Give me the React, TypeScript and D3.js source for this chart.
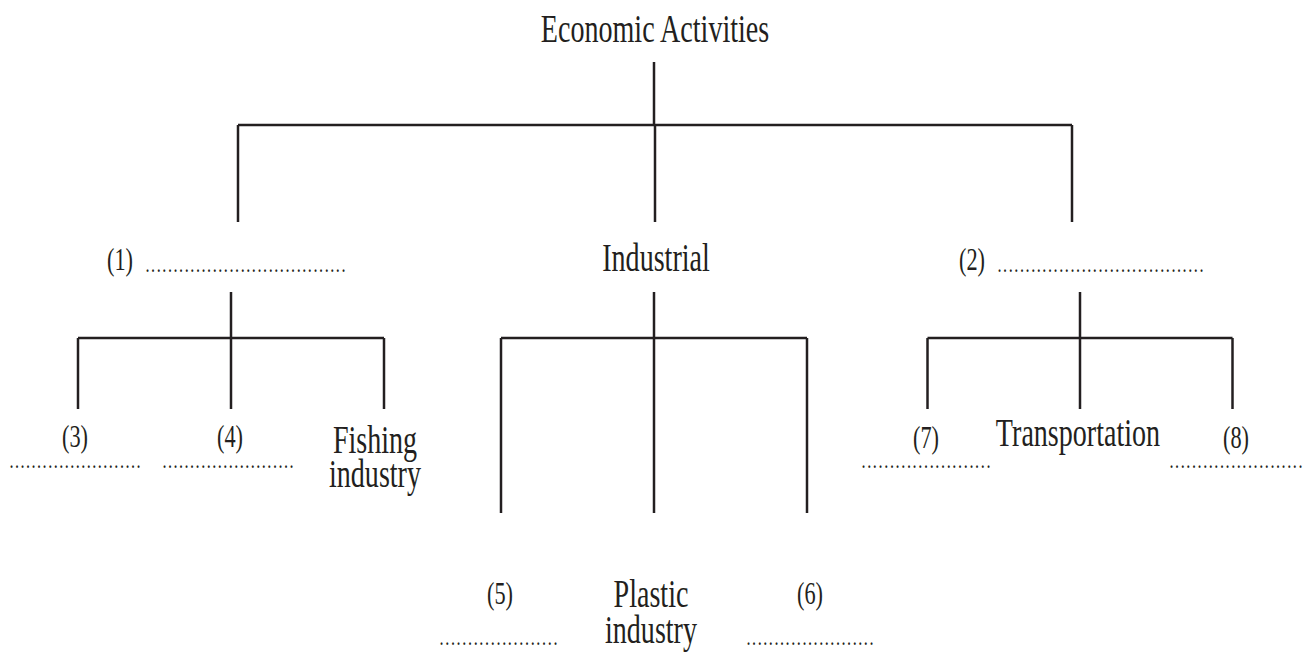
import React from "react";
import * as d3 from "d3";

const rootLabel = "Economic Activities";
const branchLabels = ["(1)", "Industrial", "(2)"];
const branchBlanks = [36, 0, 37];
const leafLabels = [
  ["(3)", "(4)", "Fishing\nindustry"],
  ["(5)", "Plastic\nindustry", "(6)"],
  ["(7)", "Transportation", "(8)"],
];
const leafBlanks = [
  [24, 24, 0],
  [21, 0, 23],
  [23, 0, 24],
];

const W = 1309;
const H = 657;
const INK = "#231f20";
const FONT = "'Liberation Serif', 'Times New Roman', serif";
const SX = 0.72;

function Label({ x, y, size, text, anchor = "middle", lineGap = 36 }: any) {
  const lines = String(text).split("\n");
  return (
    <text
      transform={`translate(${x},${y}) scale(${SX},1)`}
      textAnchor={anchor}
      fontFamily={FONT}
      fontSize={size}
      fill={INK}
    >
      {lines.map((ln, i) => (
        <tspan key={i} x={0} dy={i === 0 ? 0 : lineGap}>
          {ln}
        </tspan>
      ))}
    </text>
  );
}

function Blank({ x, y, n, width }: any) {
  return (
    <text
      transform={`translate(${x},${y}) scale(${SX},1)`}
      fontFamily={FONT}
      fontSize={17}
      fontWeight="bold"
      fill={INK}
      textLength={width / SX}
      lengthAdjust="spacing"
    >
      {".".repeat(n)}
    </text>
  );
}

export default function App() {
  const xTop = d3.scaleLinear().domain([0, 2]).range([238, 1072]);
  const yLev = d3.scaleOrdinal<string, number>()
    .domain(["rootText", "rootStem", "bar1", "drop1", "stem2", "bar2"])
    .range([42, 62, 125, 222, 292, 338]);
  const groupCenter = [231, 654, 1080];
  const groupHalf = [153, 153, 152.5];
  const dropBottom = [409, 513, 409];

  const lineProps = { stroke: INK, strokeWidth: 2.5, fill: "none" };
  const cx = xTop(1) as number;

  const leafX = (g: number, i: number) =>
    d3.scaleLinear().domain([0, 2]).range([groupCenter[g] - groupHalf[g], groupCenter[g] + groupHalf[g]])(i);

  return (
    <svg width={W} height={H} style={{ position: "absolute", left: 0, top: 0 }}>
      <rect width={W} height={H} fill="#fff" />
      <Label x={655} y={yLev("rootText")} size={39} text={rootLabel} />
      <line x1={cx - 1} x2={cx - 1} y1={yLev("rootStem")} y2={yLev("bar1")} {...lineProps} />
      <line x1={xTop(0)} x2={xTop(2)} y1={yLev("bar1")} y2={yLev("bar1")} {...lineProps} />
      {branchLabels.map((_, i) => (
        <line key={i} x1={xTop(i)} x2={xTop(i)} y1={yLev("bar1")} y2={yLev("drop1")} {...lineProps} />
      ))}

      <Label x={120} y={270} size={31} text={branchLabels[0]} />
      <Blank x={146} y={272} n={branchBlanks[0]} width={199} />
      <Label x={656} y={271} size={39} text={branchLabels[1]} />
      <Label x={972} y={270} size={31} text={branchLabels[2]} />
      <Blank x={998} y={272} n={branchBlanks[2]} width={205} />

      {groupCenter.map((c, g) => (
        <g key={g}>
          <line x1={c} x2={c} y1={yLev("stem2")} y2={yLev("bar2")} {...lineProps} />
          <line x1={leafX(g, 0)} x2={leafX(g, 2)} y1={yLev("bar2")} y2={yLev("bar2")} {...lineProps} />
          {[0, 1, 2].map((i) => (
            <line key={i} x1={leafX(g, i)} x2={leafX(g, i)} y1={yLev("bar2")} y2={dropBottom[g]} {...lineProps} />
          ))}
        </g>
      ))}

      <Label x={75} y={447} size={31} text={leafLabels[0][0]} />
      <Blank x={10} y={468} n={leafBlanks[0][0]} width={130} />
      <Label x={230} y={447} size={31} text={leafLabels[0][1]} />
      <Blank x={163} y={468} n={leafBlanks[0][1]} width={130} />
      <Label x={375} y={453} size={39} text={leafLabels[0][2]} lineGap={34} />

      <Label x={500} y={604} size={31} text={leafLabels[1][0]} />
      <Blank x={440} y={645} n={leafBlanks[1][0]} width={117} />
      <Label x={651} y={607} size={39} text={leafLabels[1][1]} lineGap={36} />
      <Label x={810} y={604} size={31} text={leafLabels[1][2]} />
      <Blank x={747} y={645} n={leafBlanks[1][2]} width={126} />

      <Label x={926} y={448} size={31} text={leafLabels[2][0]} />
      <Blank x={862} y={468} n={leafBlanks[2][0]} width={128} />
      <Label x={1078} y={446} size={39} text={leafLabels[2][1]} />
      <Label x={1236} y={448} size={31} text={leafLabels[2][2]} />
      <Blank x={1170} y={468} n={leafBlanks[2][2]} width={132} />
    </svg>
  );
}
